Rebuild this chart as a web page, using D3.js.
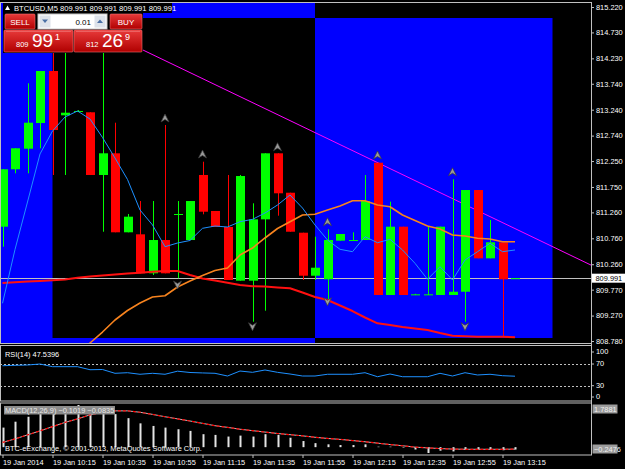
<!DOCTYPE html>
<html>
<head>
<meta charset="utf-8">
<script src="https://cdn.jsdelivr.net/npm/d3@7"></script>
<style>
    body { margin: 0; background: #000; }
    svg { display: block; font-family: "Liberation Sans", Arial, sans-serif; }
</style>
</head>
<body>
<div id="chart"></div>
<script>
'use strict';

// Symbol / quotes
const symbolTitle = 'BTCUSD,M5';
const bidPrice = 809.991;
const askPrice = 812.269;
const lotSize = '0.01';
const copyright = 'BTC-eExchange, \u00a9 2001-2013, MetaQuotes Software Corp.';

// Time axis (one label every 4 bars)
const timeLabels = ['19 Jan 2014', '19 Jan 10:15', '19 Jan 10:35', '19 Jan 10:55', '19 Jan 11:15', '19 Jan 11:35',
    '19 Jan 11:55', '19 Jan 12:15', '19 Jan 12:35', '19 Jan 12:55', '19 Jan 13:15'];
const timeTickBars = [0, 4, 8, 12, 16, 20, 24, 28, 32, 36, 40];

// OHLC, 42 bars
const opens = [810.984, 812.091, 812.488, 812.983, 813.986, 813.132, 813.205, 813.190, 811.981, 812.399, 810.876, 810.837,
    810.085, 810.727, 811.219, 810.727, 811.981, 811.287, 810.978, 809.943, 809.943, 811.126, 812.399, 811.639, 810.868,
    810.039, 809.970, 810.714, 810.722, 810.727, 812.218, 809.667, 810.984, 809.676, 809.676, 809.667, 809.667, 809.730,
    811.691, 810.374, 810.683, 809.991];
const highs = [812.091, 812.496, 813.749, 813.986, 814.487, 814.487, 813.234, 813.190, 814.487, 812.989, 811.229, 811.479,
    811.479, 812.945, 811.479, 811.479, 812.237, 811.287, 811.981, 811.981, 811.435, 812.399, 812.399, 811.639, 810.868,
    810.791, 810.934, 810.843, 810.876, 811.981, 812.218, 811.466, 810.984, 809.690, 810.984, 810.984, 811.898, 811.691,
    811.691, 811.113, 810.683, 809.991];
const lows = [810.598, 812.013, 812.013, 812.496, 811.981, 811.981, 813.195, 811.981, 810.887, 810.876, 810.876, 810.085,
    810.052, 810.085, 809.989, 810.727, 811.223, 810.978, 809.956, 809.943, 809.152, 809.364, 811.196, 810.887, 809.956,
    809.956, 809.538, 810.714, 810.722, 810.727, 809.667, 809.667, 809.667, 809.667, 809.667, 809.667, 809.667, 809.152,
    810.374, 810.374, 808.863, 809.991];
const closes = [812.091, 812.496, 812.989, 813.986, 812.848, 813.182, 813.215, 811.981, 812.399, 810.876, 811.177, 810.085,
    810.727, 810.085, 811.229, 811.479, 811.273, 810.978, 809.956, 811.961, 811.126, 812.399, 811.628, 810.887, 810.039,
    810.193, 810.727, 810.843, 810.727, 811.479, 809.667, 810.984, 809.667, 809.680, 809.680, 810.984, 809.730, 811.691,
    810.374, 810.683, 809.970, 809.991];

// Moving averages
const maFast = [809.507, 810.544, 811.460, 812.386, 812.829, 813.099, 813.215, 813.060, 812.704, 812.308, 811.894, 811.306,
    811.017, 810.598, 810.669, 810.718, 810.953, 810.997, 810.978, 811.080, 811.126, 811.248, 811.402, 811.595, 811.344,
    811.017, 810.727, 810.548, 810.502, 810.791, 810.675, 810.741, 810.535, 810.278, 809.970, 810.213, 809.956, 810.342,
    810.502, 810.664, 810.502, 810.535];
const maMid = [null, null, null, null, null, null, 808.491, 808.741, 808.953, 809.185, 809.368, 809.513, 809.628, 809.653,
    809.821, 809.937, 810.043, 810.139, 810.187, 810.438, 810.573, 810.766, 810.949, 811.080, 811.209, 811.223, 811.306,
    811.383, 811.485, 811.485, 811.402, 811.369, 811.209, 811.103, 810.997, 810.939, 810.824, 810.804, 810.760, 810.747,
    810.695, 810.695];
const maSlow = [809.898, 809.912, 809.927, 809.937, 809.950, 809.966, 810.000, 810.024, 810.043, 810.062, 810.081, 810.097,
    810.114, 810.130, 810.130, 810.052, 809.985, 809.946, 809.904, 809.860, 809.836, 809.829, 809.811, 809.796, 809.715,
    809.628, 809.570, 809.464, 809.358, 809.233, 809.121, 809.088, 809.050, 809.021, 808.992, 808.934, 808.882, 808.870,
    808.863, 808.863, 808.863, 808.851];

// Fractals [bar, price]
const fractalsUp = [[13, 813.080], [16, 812.386], [22, 812.526], [26, 811.080], [30, 812.366], [36, 812.044]];
const fractalsDown = [[14, 809.860], [20, 809.056], [26, 809.538], [37, 809.056]];

// Objects: trendline anchors [bar, price], rectangles [barFrom, barTo, priceHigh, priceLow]
const trendAnchors = [[8, 814.765], [40, 811.063]];
const rectangles = [[-2, 25, 815.6, 808.5], [4, 44, 815.008, 808.838]];

// Price axis labels
const priceTicks = [815.220, 814.730, 814.230, 813.740, 813.240, 812.740, 812.250, 811.750, 811.260, 810.760, 810.260,
    809.770, 809.270, 808.780];

// RSI(14)
const rsiValues = [66.9, 67.6, 68.2, 70.0, 65.1, 65.1, 65.1, 59.5, 59.9, 52.9, 54.0, 51.1, 52.9, 51.1, 56.8, 54.4, 53.6,
    52.9, 47.9, 57.1, 54.7, 59.0, 54.7, 51.6, 47.9, 47.9, 51.1, 51.1, 51.1, 54.0, 46.6, 51.6, 46.6, 46.6, 46.6, 52.9, 47.9,
    54.0, 49.8, 51.1, 48.5, 47.5396];
const rsiTicks = [100, 70, 30, 0];
const rsiLevels = [70, 30];

// MACD(12,26,9)
const macdMain = [0.83, 1.08, 1.29, 1.45, 1.60, 1.72, 1.7881, 1.70, 1.58, 1.40, 1.23, 1.01, 0.90, 0.83, 0.76, 0.69, 0.55,
    0.52, 0.45, 0.49, 0.45, 0.55, 0.52, 0.40, 0.26, 0.17, 0.12, 0.09, 0.09, 0.12, 0.02, 0.02, -0.02, -0.10, -0.2476, -0.15,
    -0.18, -0.12, -0.08, -0.10, -0.13, -0.1019];
const macdSignal = [0.20, 0.35, 0.52, 0.69, 0.87, 1.05, 1.20, 1.37, 1.48, 1.54, 1.54, 1.48, 1.39, 1.29, 1.20, 1.11, 1.01,
    0.91, 0.84, 0.76, 0.70, 0.64, 0.58, 0.53, 0.48, 0.42, 0.37, 0.33, 0.28, 0.23, 0.17, 0.11, 0.06, 0.00, -0.03, -0.06,
    -0.08, -0.09, -0.09, -0.09, -0.09, -0.0835];
const macdRange = [-0.2476, 1.7881];


class TerminalChart {

    constructor(_ref) {
        this.parent = _ref;
        this.initVis();
    }

    initVis() {
        const vis = this;

        // Config
        vis.w = 625;
        vis.h = 469;
        vis.axisX = 591.5;
        vis.fontSize = '7.4px';
        vis.frame = '#c0c0c0';

        vis.svg = d3.select(`#${vis.parent}`)
            .append('svg')
            .attr('width', vis.w)
            .attr('height', vis.h);

        vis.svg.append('rect')
            .attr('width', vis.w)
            .attr('height', vis.h)
            .attr('fill', '#000');

        // Panes
        vis.panes = {
            main: {top: 2.5, bottom: 343.5},
            rsi: {top: 345.5, bottom: 401},
            macd: {top: 403, bottom: 455}
        };

        // Scales
        vis.xScale = d3.scaleLinear().domain([0, 41]).range([2.5, 515]);
        vis.priceY = d3.scaleLinear().domain([808.78, 815.22]).range([341, 7]);
        vis.rsiY = d3.scaleLinear().domain([0, 100]).range([402, 347.75]);
        vis.macdY = d3.scaleLinear().domain(macdRange).range([453, 405]);

        // Clip paths
        const defs = vis.svg.append('defs');
        Object.entries(vis.panes).forEach(([k, p]) => {
            defs.append('clipPath').attr('id', `clip-${k}`)
                .append('rect')
                .attr('x', 1)
                .attr('y', p.top)
                .attr('width', vis.axisX - 1)
                .attr('height', p.bottom - p.top);
        });

        const grad = defs.append('linearGradient').attr('id', 'redGrad')
            .attr('x1', 0).attr('y1', 0).attr('x2', 0).attr('y2', 1);
        grad.append('stop').attr('offset', '0%').attr('stop-color', '#e83a3a');
        grad.append('stop').attr('offset', '100%').attr('stop-color', '#b00000');

        vis.mainG = vis.svg.append('g').attr('clip-path', 'url(#clip-main)');
        vis.rsiG = vis.svg.append('g').attr('clip-path', 'url(#clip-rsi)');
        vis.macdG = vis.svg.append('g').attr('clip-path', 'url(#clip-macd)');
        vis.axisG = vis.svg.append('g');
        vis.topG = vis.svg.append('g');

        vis.wrangleData();
    }

    wrangleData() {
        const vis = this;

        vis.bars = opens.map((o, i) => ({
            i: i, o: o, h: highs[i], l: lows[i], c: closes[i]
        }));

        // trendline extended across the window (ray)
        const [a, b] = trendAnchors;
        const slope = (b[1] - a[1]) / (b[0] - a[0]);
        vis.trend = [-4, 48].map(i => [i, a[1] + slope * (i - a[0])]);

        vis.updateVis();
    }

    updateVis() {
        const vis = this;
        const x = vis.xScale;
        const py = vis.priceY;

        // ---- Main pane
        // rectangles (XOR like the terminal)
        const rp = d3.path();
        rectangles.forEach(r => {
            const x0 = x(r[0]), x1 = x(r[1]);
            const y0 = py(r[2]), y1 = py(r[3]);
            rp.rect(x0, y0, x1 - x0, y1 - y0);
        });
        vis.mainG.append('path')
            .attr('d', rp.toString())
            .attr('fill', '#0000ff')
            .attr('fill-rule', 'evenodd');

        // bid line
        vis.mainG.append('line')
            .attr('x1', 0).attr('x2', vis.axisX)
            .attr('y1', Math.round(py(bidPrice)) + 0.5)
            .attr('y2', Math.round(py(bidPrice)) + 0.5)
            .attr('stroke', '#c0c0c0');

        // trendline
        vis.mainG.append('line')
            .attr('x1', x(vis.trend[0][0])).attr('y1', py(vis.trend[0][1]))
            .attr('x2', x(vis.trend[1][0])).attr('y2', py(vis.trend[1][1]))
            .attr('stroke', '#ff00ff')
            .attr('stroke-width', 1);

        // candles
        const candleG = vis.mainG.append('g').attr('class', 'candles');
        const col = d => d.c >= d.o ? '#00ff00' : '#ff0000';
        candleG.selectAll('.wick')
            .data(vis.bars)
            .join('line')
            .attr('class', 'wick')
            .attr('x1', d => Math.round(x(d.i)) + 0.5)
            .attr('x2', d => Math.round(x(d.i)) + 0.5)
            .attr('y1', d => py(d.h))
            .attr('y2', d => py(d.l))
            .attr('stroke', col);
        candleG.selectAll('.body')
            .data(vis.bars)
            .join('rect')
            .attr('class', 'body')
            .attr('x', d => Math.round(x(d.i)) - 4)
            .attr('width', 9)
            .attr('y', d => py(Math.max(d.o, d.c)))
            .attr('height', d => Math.max(1, py(Math.min(d.o, d.c)) - py(Math.max(d.o, d.c))))
            .attr('fill', col);

        // moving averages
        const maLine = d3.line()
            .defined(d => d != null)
            .x((d, i) => x(i))
            .y(d => py(d));
        [[maSlow, '#ff1010', 2], [maMid, '#f7831e', 1.6], [maFast, '#1e90ff', 1]].forEach(([arr, c, sw]) => {
            vis.mainG.append('path')
                .attr('d', maLine(arr))
                .attr('fill', 'none')
                .attr('stroke', c)
                .attr('stroke-width', sw)
                .attr('stroke-linejoin', 'round');
        });

        // fractals
        const arrowUp = 'M0,-4 L4,4 L0,1.5 L-4,4 Z';
        const arrowDown = 'M0,4 L4,-4 L0,-1.5 L-4,-4 Z';
        [[fractalsUp, arrowUp], [fractalsDown, arrowDown]].forEach(([arr, shape]) => {
            vis.mainG.append('g').selectAll('path')
                .data(arr)
                .join('path')
                .attr('d', shape)
                .attr('transform', d => `translate(${x(d[0])},${py(d[1])})`)
                .attr('fill', '#9a9a9a')
                .attr('stroke', '#3a3a3a')
                .attr('stroke-width', 0.7);
        });

        // ---- RSI pane
        rsiLevels.forEach(l => {
            vis.rsiG.append('line')
                .attr('x1', 0).attr('x2', vis.axisX)
                .attr('y1', Math.round(vis.rsiY(l)) + 0.5)
                .attr('y2', Math.round(vis.rsiY(l)) + 0.5)
                .attr('stroke', '#c0c0c0')
                .attr('stroke-dasharray', '2,2');
        });
        vis.rsiG.append('path')
            .attr('d', d3.line().x((d, i) => x(i)).y(d => vis.rsiY(d))(rsiValues))
            .attr('fill', 'none')
            .attr('stroke', '#1e90ff')
            .attr('stroke-width', 1);
        vis.rsiG.append('text')
            .attr('x', 5).attr('y', 356.5)
            .attr('fill', '#fff')
            .style('font-size', vis.fontSize)
            .text(`RSI(14) ${d3.format('.4f')(rsiValues[rsiValues.length - 1])}`);

        // ---- MACD pane
        vis.macdG.selectAll('.hist')
            .data(macdMain)
            .join('rect')
            .attr('class', 'hist')
            .attr('x', (d, i) => Math.round(x(i)) - 0.5)
            .attr('width', 2)
            .attr('y', d => vis.macdY(Math.max(d, 0)))
            .attr('height', d => Math.abs(vis.macdY(d) - vis.macdY(0)))
            .attr('fill', '#e4e4e4');
        const sigLine = d3.line().x((d, i) => x(i)).y(d => vis.macdY(d));
        vis.macdG.append('path')
            .attr('d', sigLine(macdSignal))
            .attr('fill', 'none')
            .attr('stroke', '#bbbbbb')
            .attr('stroke-width', 1);
        vis.macdG.append('path')
            .attr('d', sigLine(macdSignal))
            .attr('fill', 'none')
            .attr('stroke', '#ff0000')
            .attr('stroke-width', 1.2)
            .attr('stroke-dasharray', '3,2');

        const macdLegend = `MACD(12,26,9) ${d3.format('.4f')(macdMain[macdMain.length - 1])} ${d3.format('.4f')(macdSignal[macdSignal.length - 1])}`;
        vis.macdG.append('rect')
            .attr('x', 4).attr('y', 406)
            .attr('width', 111).attr('height', 8.5)
            .attr('fill', '#8c8c8c');
        vis.macdG.append('text')
            .attr('x', 5).attr('y', 413)
            .attr('fill', '#e6e6e6')
            .style('font-size', vis.fontSize)
            .text(macdLegend);
        vis.macdG.append('text')
            .attr('x', 5).attr('y', 451)
            .attr('fill', '#fff')
            .style('font-size', vis.fontSize)
            .text(copyright);

        // ---- Frames
        Object.values(vis.panes).forEach(p => {
            vis.axisG.append('rect')
                .attr('x', 0.5).attr('y', p.top)
                .attr('width', vis.axisX - 0.5)
                .attr('height', p.bottom - p.top)
                .attr('fill', 'none')
                .attr('stroke', vis.frame);
        });

        // ---- Axes
        const styleAxis = g => {
            g.select('.domain').remove();
            g.selectAll('line').attr('stroke', vis.frame);
            g.selectAll('text').attr('fill', '#fff').style('font-size', vis.fontSize).style('font-family', null);
        };

        vis.axisG.append('g')
            .attr('transform', `translate(${vis.axisX - 0.5},0)`)
            .call(d3.axisRight(py).tickValues(priceTicks).tickFormat(d3.format('.3f')).tickSize(3).tickPadding(2))
            .call(styleAxis);

        // RSI scale, clamped inside its pane
        const rsiAxis = vis.axisG.append('g')
            .attr('transform', `translate(${vis.axisX - 0.5},0)`)
            .call(d3.axisRight(vis.rsiY).tickValues(rsiTicks).tickSize(3).tickPadding(2))
            .call(styleAxis);
        rsiAxis.selectAll('.tick')
            .attr('transform', d => `translate(0,${Math.min(397, Math.max(352, vis.rsiY(d)))})`);

        // MACD min / max boxes
        [[macdRange[1], vis.macdY(macdRange[1]) + 4], [macdRange[0], vis.macdY(macdRange[0]) - 4]].forEach(([v, yy]) => {
            vis.axisG.append('rect')
                .attr('x', 592.5).attr('y', yy - 4.5)
                .attr('width', 25).attr('height', 9)
                .attr('fill', '#9c9c9c');
            vis.axisG.append('text')
                .attr('x', 594).attr('y', yy + 2.6)
                .attr('fill', '#f0f0f0')
                .style('font-size', vis.fontSize)
                .text(d3.format('.4f')(v));
        });

        // Bid label
        const by = py(bidPrice);
        vis.axisG.append('rect')
            .attr('x', 592).attr('y', by - 4.5)
            .attr('width', 33).attr('height', 9)
            .attr('fill', '#fff');
        vis.axisG.append('text')
            .attr('x', 595.5).attr('y', by + 2.6)
            .attr('fill', '#000')
            .style('font-size', vis.fontSize)
            .text(d3.format('.3f')(bidPrice));

        // Time axis
        vis.axisG.append('g')
            .attr('transform', `translate(0,${vis.panes.macd.bottom})`)
            .call(d3.axisBottom(x).tickValues(timeTickBars).tickFormat((d, k) => timeLabels[k]).tickSize(3).tickPadding(2))
            .call(styleAxis)
            .selectAll('text')
            .attr('text-anchor', 'start')
            .attr('x', 0);

        vis.axisG.append('line')
            .attr('x1', vis.axisX).attr('x2', vis.axisX)
            .attr('y1', 2).attr('y2', vis.panes.macd.bottom)
            .attr('stroke', vis.frame);

        vis.drawHeader();
    }

    drawHeader() {
        const vis = this;
        const g = vis.topG;
        const f3 = d3.format('.3f');
        const last = vis.bars[vis.bars.length - 1];

        // Title
        g.append('rect')
            .attr('x', 3).attr('y', 3)
            .attr('width', 169).attr('height', 10)
            .attr('fill', '#000');
        g.append('path')
            .attr('d', 'M5,10 L7.5,5.5 L10,10 Z')
            .attr('fill', '#fff');
        g.append('text')
            .attr('x', 14).attr('y', 11)
            .attr('fill', '#fff')
            .style('font-size', '7.6px')
            .text(`${symbolTitle}  ${[last.o, last.h, last.l, last.c].map(f3).join(' ')}`);

        // One-click trading panel
        g.append('rect')
            .attr('x', 3).attr('y', 13)
            .attr('width', 140).attr('height', 40)
            .attr('fill', '#000');

        const box = (bx, by, bw, bh) => g.append('rect')
            .attr('x', bx).attr('y', by)
            .attr('width', bw).attr('height', bh)
            .attr('rx', 1)
            .attr('fill', 'url(#redGrad)')
            .attr('stroke', '#f07070')
            .attr('stroke-width', 0.6);
        const label = (tx, ty, txt, size, anchor, color) => g.append('text')
            .attr('x', tx).attr('y', ty)
            .attr('text-anchor', anchor || 'start')
            .attr('fill', color || '#fff')
            .style('font-size', size)
            .text(txt);

        box(5, 14, 30, 15);
        label(20, 24.5, 'SELL', '8px', 'middle');
        box(110, 14, 32, 15);
        label(126, 24.5, 'BUY', '8px', 'middle');

        // lot spinner
        g.append('rect')
            .attr('x', 38).attr('y', 14)
            .attr('width', 69).attr('height', 15)
            .attr('fill', '#fff')
            .attr('stroke', '#c8c8c8');
        [[39.5, 'M42,19.5 L48,19.5 L45,23 Z'], [94.5, 'M97,23 L103,23 L100,19.5 Z']].forEach(([sx, tri]) => {
            g.append('rect')
                .attr('x', sx).attr('y', 15.5)
                .attr('width', 11).attr('height', 12)
                .attr('fill', '#dde2ea');
            g.append('path').attr('d', tri).attr('fill', '#4a6fa5');
        });
        label(91, 25, lotSize, '8px', 'end', '#000');

        // price boxes
        [[4, 69, bidPrice], [74, 68, askPrice]].forEach(([bx, bw, p]) => {
            const s = f3(p);
            box(bx, 30, bw, 22);
            g.append('line')
                .attr('x1', bx + 2).attr('x2', bx + bw - 2)
                .attr('y1', 31.5).attr('y2', 31.5)
                .attr('stroke', '#f08080')
                .attr('stroke-width', 0.6);
            label(bx + 12, 47, s.slice(0, 3), '7.5px');
            label(bx + 28, 47, s.slice(4, 6), '19px');
            label(bx + 51, 40, s.slice(6), '9px');
        });
    }
}

new TerminalChart('chart');
</script>
</body>
</html>
